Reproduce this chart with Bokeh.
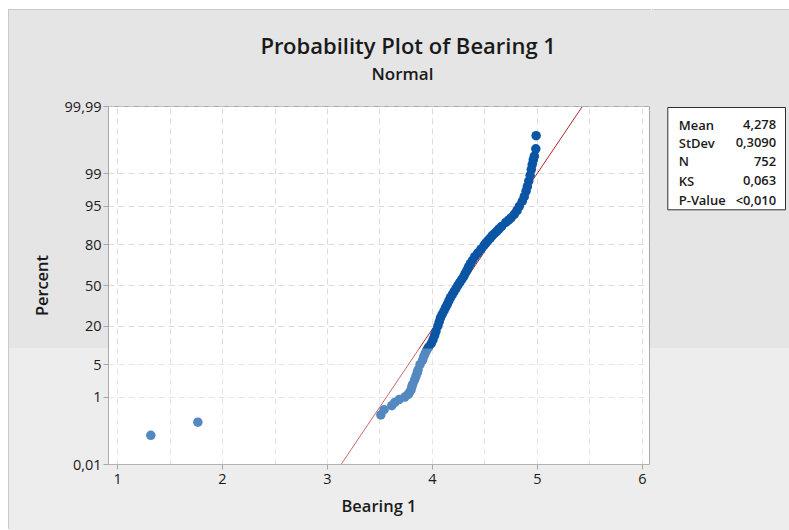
from statistics import NormalDist

from bokeh.core.properties import value
from bokeh.embed import file_html
from bokeh.layouts import row
from bokeh.models import BoxAnnotation, FixedTicker, Range1d, Title
from bokeh.plotting import figure
from bokeh.resources import INLINE

# Sorted Bearing 1 observations and their plotting positions (percent)
bearing = [1.317, 1.765, 3.508, 3.539, 3.612, 3.641, 3.682, 3.736, 3.765, 3.779,
           3.795, 3.803, 3.811, 3.830, 3.843, 3.855, 3.863, 3.881, 3.905, 3.917,
           3.931, 3.946, 3.963, 3.989, 4.005, 4.020, 4.033, 4.051, 4.064, 4.076,
           4.092, 4.110, 4.126, 4.142, 4.156, 4.171, 4.189, 4.206, 4.224, 4.241,
           4.260, 4.279, 4.298, 4.312, 4.329, 4.344, 4.361, 4.381, 4.403, 4.431,
           4.462, 4.493, 4.510, 4.528, 4.550, 4.570, 4.590, 4.612, 4.634, 4.658,
           4.698, 4.724, 4.748, 4.779, 4.805, 4.827, 4.855, 4.874, 4.891, 4.903,
           4.917, 4.930, 4.941, 4.950, 4.960, 4.970, 4.984, 4.987]
percent = [0.093, 0.226, 0.359, 0.492, 0.625, 0.758, 0.890, 1.02, 1.16, 1.29,
           1.5, 1.75, 2, 2.5, 3, 3.5, 4, 5, 6, 7,
           8, 9, 10, 11.5, 13, 15, 17, 20, 22.5, 25,
           27.5, 30, 32.5, 35, 37.5, 40, 42.5, 45, 47.5, 50,
           52.5, 55, 57.5, 60, 62.5, 65, 67.5, 70, 72.5, 75,
           77.5, 80, 81.25, 82.5, 83.75, 85, 86, 87, 88, 89,
           90.5, 91.25, 92, 93, 94, 95, 96, 96.75, 97.5, 98,
           98.5, 98.9, 99.2, 99.4, 99.55, 99.64, 99.774, 99.907]

# Probability-scale ticks
tick_percent = [0.01, 1, 5, 20, 50, 80, 95, 99, 99.99]
tick_text = ["0,01", "1", "5", "20", "50", "80", "95", "99", "99,99"]
x_ticks = [1, 2, 3, 4, 5, 6]
x_grid = [1, 1.5, 2, 2.5, 3, 3.5, 4, 4.5, 5, 5.5, 6]

# Summary statistics of the fitted normal distribution
fit_mean = 4.278
fit_sd = 0.3090
stat_names = ["Mean", "StDev", "N", "KS", "P-Value"]
stat_values = ["4,278", "0,3090", "752", "0,063", "<0,010"]

nd = NormalDist()
score = [nd.inv_cdf(q / 100) for q in percent]
tick_z = [nd.inv_cdf(q / 100) for q in tick_percent]
zlim = nd.inv_cdf(0.9999)

SEMI = "Open Sans SemiBold, Open Sans"
TXT = "#1a1a1a"
BLUE = "#0b55a5"
GRAY = "#e5e5e5"
PALE = "#ededed"
# page background: grey panel with a paler lower band and a thin edge line
page_bg = {"background": f"linear-gradient(to bottom, {GRAY} 0px, {GRAY} 338px, "
                         f"{PALE} 338px, {PALE} 100%)"}
main_bg = dict(page_bg, **{"box-shadow": "-1px -1px 0 #cacaca"})
side_bg = dict(page_bg, **{"box-shadow": "0 -1px 0 #cacaca"})

p = figure(width=643, height=520, margin=(10, 0, 0, 9),
           x_range=Range1d(0.914, 6.067), y_range=Range1d(-zlim, zlim),
           output_backend="svg", toolbar_location=None,
           min_border_left=99, min_border_right=3,
           min_border_top=96, min_border_bottom=66,
           background_fill_color="white", border_fill_color=None,
           outline_line_color="#a6a6a6", styles=main_bg)

p.add_layout(Title(text="Normal", align="left", offset=263, standoff=43,
                   text_font=SEMI, text_font_size="17px",
                   text_font_style="normal", text_color=TXT), "above")
p.add_layout(Title(text="Probability Plot of Bearing 1", align="left",
                   offset=152, standoff=-42, text_font=SEMI,
                   text_font_size="22px", text_font_style="normal",
                   text_color=TXT), "above")

p.xaxis.ticker = FixedTicker(ticks=x_ticks)
p.yaxis.ticker = FixedTicker(ticks=tick_z)
p.yaxis.major_label_overrides = dict(zip(tick_z, tick_text))
p.xgrid.ticker = FixedTicker(ticks=x_grid)
p.ygrid.ticker = FixedTicker(ticks=tick_z)
for g in (p.xgrid, p.ygrid):
    g.grid_line_color = "#dcdcdc"
    g.grid_line_dash = "6 4"
    g.grid_line_width = 1

for ax in (p.xaxis, p.yaxis):
    ax.major_tick_in = 0
    ax.major_tick_out = 5
    ax.minor_tick_line_color = None
    ax.axis_line_color = "#a6a6a6"
    ax.major_tick_line_color = "#a6a6a6"
    ax.major_label_text_font = "Open Sans"
    ax.major_label_text_font_size = "14.5px"
    ax.major_label_text_color = TXT
    ax.axis_label_text_font = SEMI
    ax.axis_label_text_font_size = "16.5px"
    ax.axis_label_text_font_style = "normal"
    ax.axis_label_text_color = TXT

p.xaxis.axis_label = "Bearing 1"
p.yaxis.axis_label = "Percent"
p.xaxis.major_label_standoff = 4
p.yaxis.major_label_standoff = 2
p.xaxis.axis_label_standoff = 7
p.yaxis.axis_label_standoff = 9

# fitted normal reference line
p.line([fit_mean - zlim * fit_sd, fit_mean + zlim * fit_sd], [-zlim, zlim],
       line_color="#b3262a", line_width=1)

p.scatter(bearing, score, size=9.5, fill_color=BLUE, line_color=None)

# pale wash over the lower part of the plot area
p.add_layout(BoxAnnotation(bottom=-66, top=116,
                           bottom_units="screen", top_units="screen",
                           fill_color="white", fill_alpha=0.3,
                           line_color=None, level="overlay"))

# side panel holding the statistics table; its frame spans page y 106..464
side = figure(width=137, height=520, margin=(10, 0, 0, 0),
              x_range=Range1d(652, 789), y_range=Range1d(464, 106),
              output_backend="svg", toolbar_location=None,
              x_axis_location=None, y_axis_location=None,
              min_border_left=0, min_border_right=0,
              min_border_top=96, min_border_bottom=66,
              background_fill_color=None, border_fill_color=None,
              outline_line_color=None, styles=side_bg)
side.xgrid.visible = False
side.ygrid.visible = False

side.quad(left=[667.3], right=[785], top=[107], bottom=[209.3],
          fill_color="white", line_color="#303030", line_width=1)
row_y = [124, 142.3, 160.7, 180, 199]
side.text(x=[678.3] * len(stat_names), y=row_y, text=stat_names,
          text_align="left", text_baseline="alphabetic",
          text_font=value(SEMI), text_font_size="13px", text_color=TXT)
side.text(x=[775.7] * len(stat_values), y=row_y, text=stat_values,
          text_align="right", text_baseline="alphabetic",
          text_font=value(SEMI), text_font_size="13px", text_color=TXT)

layout = row(p, side, spacing=0)
open("out.html", "w").write(file_html(layout, INLINE))
